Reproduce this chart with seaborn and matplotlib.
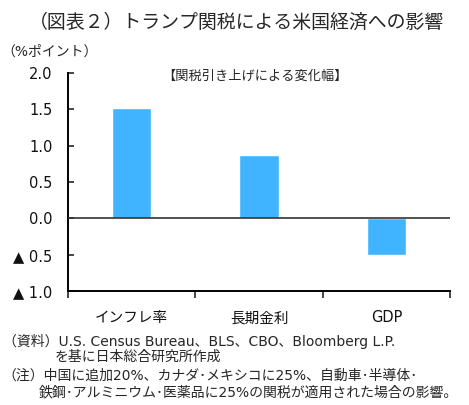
import matplotlib
matplotlib.use("Agg")
import matplotlib.pyplot as plt
import seaborn as sns
import pandas as pd
from matplotlib.ticker import FixedLocator

categories = ["インフレ率", "長期金利", "GDP"]
values = [1.52, 0.87, -0.50]
yticks = [-1.0, -0.5, 0.0, 0.5, 1.0, 1.5, 2.0]
ytick_labels = ["▲ 1.0", "▲ 0.5", "0.0", "0.5", "1.0", "1.5", "2.0"]

title = "（図表２）トランプ関税による米国経済への影響"
unit_label = "（%ポイント）"
inner_label = "【関税引き上げによる変化幅】"
notes = [
    (0.006, 0.158, "（資料）U.S. Census Bureau、BLS、CBO、Bloomberg L.P."),
    (0.117, 0.118, "を基に日本総合研究所作成"),
    (0.006, 0.072, "（注）中国に追加20%、カナダ･メキシコに25%、自動車･半導体･"),
    (0.083, 0.032, "鉄鋼･アルミニウム･医薬品に25%の関税が適用された場合の影響。"),
]

sns.set_theme(style="white")
FAM = ["DejaVu Sans", "Noto Sans CJK JP"]
plt.rcParams["font.family"] = FAM

df = pd.DataFrame({"cat": categories, "val": values})

fig = plt.figure(figsize=(4.69, 4.05), dpi=100)
ax = fig.add_axes([0.145, 0.2815, 0.8145, 0.5383])

sns.barplot(data=df, x="cat", y="val", color="#41B4FF", width=0.31,
            saturation=1, ax=ax, zorder=2)

ax.set_xlim(-0.5, 2.5)
ax.set_ylim(-1.0, 2.0)
ax.set_xlabel("")
ax.set_ylabel("")
ax.axhline(0, color="#333333", lw=1.2, zorder=3)

for s in ["top", "right"]:
    ax.spines[s].set_visible(False)
for s in ["left", "bottom"]:
    ax.spines[s].set_color("black")
    ax.spines[s].set_linewidth(1.4)

ax.set_yticks(yticks)
ax.set_yticklabels(ytick_labels, fontsize=10.5, color="#111111")
ax.tick_params(axis="y", direction="in", length=4, width=1.2, pad=11, left=True)

ax.set_xticks(range(len(categories)))
ax.set_xticklabels(categories, fontsize=10.5, color="#111111")
ax.tick_params(axis="x", which="major", length=0, pad=14)
ax.xaxis.set_minor_locator(FixedLocator([-0.5, 0.5, 1.5, 2.5]))
ax.tick_params(axis="x", which="minor", direction="out", length=5, width=1.2, bottom=True)

fig.text(0.505, 0.945, title, ha="center", va="center", fontsize=13.6, family=FAM)
fig.text(0.105, 0.873, unit_label, ha="center", va="center", fontsize=10, family=FAM)
ax.text(0.49, 0.985, inner_label, transform=ax.transAxes, ha="center", va="center",
        fontsize=9.5, family=FAM)

for x, y, t in notes:
    fig.text(x, y, t, ha="left", va="center", fontsize=10, family=FAM)

fig.savefig("out.png", dpi=100)
